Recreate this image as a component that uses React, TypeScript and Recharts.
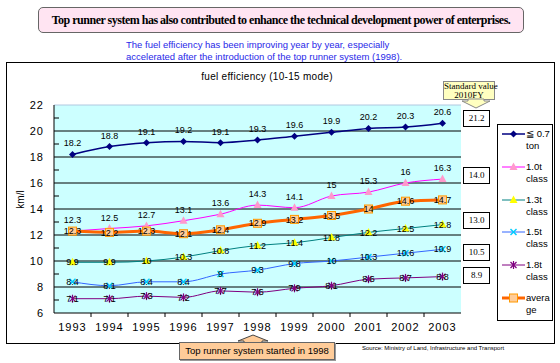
import React from "react";
import { LineChart, Line, XAxis, YAxis, CartesianGrid, ReferenceLine, LabelList } from "recharts";

const YEARS = ["1993", "1994", "1995", "1996", "1997", "1998", "1999", "2000", "2001", "2002", "2003"];
const K07 = [18.2, 18.8, 19.1, 19.2, 19.1, 19.3, 19.6, 19.9, 20.2, 20.3, 20.6];
const T10 = [12.3, 12.5, 12.7, 13.1, 13.6, 14.3, 14.1, 15, 15.3, 16, 16.3];
const T13 = [9.9, 9.9, 10, 10.3, 10.8, 11.2, 11.4, 11.8, 12.2, 12.5, 12.8];
const T15 = [8.4, 8.1, 8.4, 8.4, 9, 9.3, 9.8, 10, 10.3, 10.6, 10.9];
const T18 = [7.1, 7.1, 7.3, 7.2, 7.7, 7.6, 7.9, 8.1, 8.6, 8.7, 8.8];
const AVG = [12.3, 12.2, 12.3, 12.1, 12.4, 12.9, 13.2, 13.5, 14, 14.6, 14.7];

const Y_TICKS = [6, 7, 8, 9, 10, 11, 12, 13, 14, 15, 16, 17, 18, 19, 20, 21, 22];
const GRID = [8, 10, 12, 14, 16, 18, 20];
const STANDARD = ["21.2", "14.0", "13.0", "10.5", "8.9"];
const STANDARD_TOP = [110, 167, 212, 244, 267];

const data = YEARS.map((year, i) => ({
  year,
  k07: K07[i],
  t10: T10[i],
  t13: T13[i],
  t15: T15[i],
  t18: T18[i],
  avg: AVG[i],
}));

type Marker = "diamond" | "tri" | "cross" | "star" | "square";

const SERIES: { key: string; name: string[]; color: string; width: number; marker: Marker; fill: string; label: "top" | "center" }[] = [
  { key: "k07", name: ["≦ 0.7", "ton"], color: "#000080", width: 1.5, marker: "diamond", fill: "#000080", label: "top" },
  { key: "t10", name: ["1.0t", "class"], color: "#FF00FF", width: 1, marker: "tri", fill: "#FF99CC", label: "top" },
  { key: "t13", name: ["1.3t", "class"], color: "#008080", width: 1, marker: "tri", fill: "#FFFF00", label: "center" },
  { key: "t15", name: ["1.5t", "class"], color: "#3366FF", width: 1, marker: "cross", fill: "#00CCFF", label: "center" },
  { key: "t18", name: ["1.8t", "class"], color: "#800080", width: 1, marker: "star", fill: "#800080", label: "center" },
  { key: "avg", name: ["avera", "ge"], color: "#FF6600", width: 3, marker: "square", fill: "#FFCC99", label: "center" },
];

const FONT = "'Liberation Sans', Arial, sans-serif";
const SERIF = "'Liberation Serif', 'Times New Roman', serif";

function drawMarker(marker: Marker, cx: number, cy: number, fill: string, key?: string) {
  switch (marker) {
    case "diamond":
      return <polygon key={key} points={`${cx},${cy - 3.5} ${cx + 3.5},${cy} ${cx},${cy + 3.5} ${cx - 3.5},${cy}`} fill={fill} />;
    case "tri":
      return <polygon key={key} points={`${cx},${cy - 4.5} ${cx + 4},${cy + 3} ${cx - 4},${cy + 3}`} fill={fill} />;
    case "cross":
      return (
        <g key={key} stroke={fill} strokeWidth={1.5}>
          <line x1={cx - 3} y1={cy - 3} x2={cx + 3} y2={cy + 3} />
          <line x1={cx - 3} y1={cy + 3} x2={cx + 3} y2={cy - 3} />
        </g>
      );
    case "star":
      return (
        <g key={key} stroke={fill} strokeWidth={1.2}>
          <line x1={cx - 3} y1={cy - 3} x2={cx + 3} y2={cy + 3} />
          <line x1={cx - 3} y1={cy + 3} x2={cx + 3} y2={cy - 3} />
          <line x1={cx} y1={cy - 4} x2={cx} y2={cy + 4} />
        </g>
      );
    default:
      return <rect key={key} x={cx - 4} y={cy - 4} width={8} height={8} fill={fill} stroke="#FF9900" strokeWidth={1} />;
  }
}

function XTick(props: any) {
  const { x, y, payload, index } = props;
  return (
    <g>
      <text x={x} y={y + 18} textAnchor="middle" fontSize={11} letterSpacing={1} fill="#000" fontFamily={FONT}>
        {payload.value}
      </text>
      {index < YEARS.length - 1 && <line x1={x + 18.5} x2={x + 18.5} y1={y} y2={y + 4} stroke="#000" />}
    </g>
  );
}

function YTick(props: any) {
  const { x, y, payload } = props;
  if (payload.value % 2 === 1) {
    return <line x1={x} x2={x + 5} y1={y} y2={y} stroke="#000" />;
  }
  return (
    <text x={x - 10} y={y + 4} textAnchor="end" fontSize={11} letterSpacing={1} fill="#000" fontFamily={FONT}>
      {payload.value}
    </text>
  );
}

export default function App() {
  return (
    <div style={{ position: "absolute", left: 0, top: 0, width: 560, height: 363, background: "#fff", fontFamily: FONT, overflow: "hidden" }}>
      {/* headline */}
      <div
        style={{
          position: "absolute", left: 38, top: 7, width: 484, height: 24,
          border: "1.5px solid #666", borderRadius: 5, background: "#FFE4F2",
          fontFamily: SERIF, fontWeight: "bold", fontSize: 12, letterSpacing: -0.5,
          lineHeight: "24px", textAlign: "center", whiteSpace: "nowrap",
        }}
      >
        Top runner system has also contributed to enhance the technical development power of enterprises.
      </div>
      <div style={{ position: "absolute", left: 126, top: 39, fontSize: 9.5, lineHeight: "12px", color: "#2828E8", whiteSpace: "nowrap" }}>
        The fuel efficiency has been improving year by year, especially
        <br />
        accelerated after the introduction of the top runner system (1998).
      </div>

      {/* chart frame */}
      <div style={{ position: "absolute", left: 6, top: 62, width: 547, height: 280, border: "1px solid #000" }} />
      <div style={{ position: "absolute", left: 0, top: 71, width: 534, textAlign: "center", fontSize: 10, letterSpacing: 0.3 }}>
        fuel efficiency (10-15 mode)
      </div>
      <div style={{ position: "absolute", left: 2, top: 194, width: 36, textAlign: "center", fontSize: 10, transform: "rotate(-90deg)" }}>
        km/l
      </div>

      <div style={{ position: "absolute", left: 0, top: 0 }}>
        <LineChart width={560} height={363} data={data} margin={{ top: 105, right: 99, bottom: 30, left: 0 }}>
          <CartesianGrid fill="#CCFFFF" fillOpacity={1} horizontal={false} vertical={false} />
          {GRID.map((v) => (
            <ReferenceLine key={v} y={v} stroke="#000" strokeWidth={1} />
          ))}
          <ReferenceLine y={22} stroke="#B0C8E0" strokeWidth={1} />
          <XAxis
            dataKey="year"
            padding={{ left: 18.5, right: 18.5 }}
            axisLine={{ stroke: "#000" }}
            tickLine={false}
            tickSize={0}
            tickMargin={0}
            interval={0}
            height={20}
            tick={<XTick />}
          />
          <YAxis
            domain={[6, 22]}
            ticks={Y_TICKS}
            width={54}
            axisLine={{ stroke: "#000" }}
            tickLine={false}
            tickSize={0}
            tickMargin={0}
            interval={0}
            tick={<YTick />}
          />
          {SERIES.map((s) => (
            <Line
              key={s.key}
              dataKey={s.key}
              type="monotone"
              stroke={s.color}
              strokeWidth={s.width}
              isAnimationActive={false}
              activeDot={false}
              dot={(p: any) => drawMarker(s.marker, p.cx, p.cy, s.fill, `${s.key}-${p.index}`)}
            >
              <LabelList
                dataKey={s.key}
                position={s.label}
                offset={s.label === "top" ? 8 : 0}
                fontSize={9}
                fill="#000"
                fontFamily={FONT}
              />
            </Line>
          ))}
        </LineChart>
      </div>

      {/* standard values 2010FY */}
      <div
        style={{
          position: "absolute", left: 443, top: 81, width: 50, height: 17,
          background: "#FFFFC0", border: "1px solid #888", fontFamily: SERIF,
          fontSize: 9, lineHeight: "8.5px", textAlign: "center", whiteSpace: "nowrap",
        }}
      >
        Standard value
        <br />
        2010FY
      </div>
      <svg style={{ position: "absolute", left: 460, top: 98 }} width={32} height={12}>
        <polygon points="8,1 24,1 24,3 30,3 16,10 2,3 8,3" fill="#FFFFC0" stroke="#888" strokeWidth={1} />
      </svg>
      {STANDARD.map((v, i) => (
        <div
          key={v}
          style={{
            position: "absolute", left: 463, top: STANDARD_TOP[i], width: 25, height: 15,
            background: "#fff", border: "1px solid #000", fontFamily: SERIF, fontSize: 9,
            lineHeight: "15px", textAlign: "center",
          }}
        >
          {v}
        </div>
      ))}

      {/* legend */}
      <div style={{ position: "absolute", left: 497, top: 124, width: 54, height: 195, border: "1px solid #000", background: "#fff" }}>
        {SERIES.map((s, i) => (
          <div key={s.key} style={{ position: "absolute", left: 0, top: 3 + i * 32.8, width: 54, height: 30 }}>
            <svg style={{ position: "absolute", left: 4, top: 0 }} width={23} height={12}>
              <line x1={0} x2={23} y1={6} y2={6} stroke={s.color} strokeWidth={s.width} />
              {drawMarker(s.marker, 11.5, 6, s.fill)}
            </svg>
            <div style={{ position: "absolute", left: 28, top: 0, fontSize: 9.5, lineHeight: "12px", whiteSpace: "nowrap" }}>
              {s.name[0]}
              <br />
              {s.name[1]}
            </div>
          </div>
        ))}
      </div>

      {/* 1998 callout */}
      <svg style={{ position: "absolute", left: 236, top: 333 }} width={34} height={12}>
        <polygon points="17,2 32,8 26,8 26,11 8,11 8,8 2,8" fill="#FFCC99" stroke="#444" strokeWidth={1} />
      </svg>
      <div
        style={{
          position: "absolute", left: 179, top: 342, width: 154, height: 16,
          background: "#FFCC99", border: "1px solid #666", boxShadow: "1px 1px 0 #999",
          fontSize: 9.5, lineHeight: "16px", textAlign: "center", whiteSpace: "nowrap",
        }}
      >
        Top runner system started in 1998
      </div>
      <div style={{ position: "absolute", left: 362, top: 345, fontSize: 6, whiteSpace: "nowrap" }}>
        Source: Ministry of Land, Infrastructure and Transport
      </div>
    </div>
  );
}
